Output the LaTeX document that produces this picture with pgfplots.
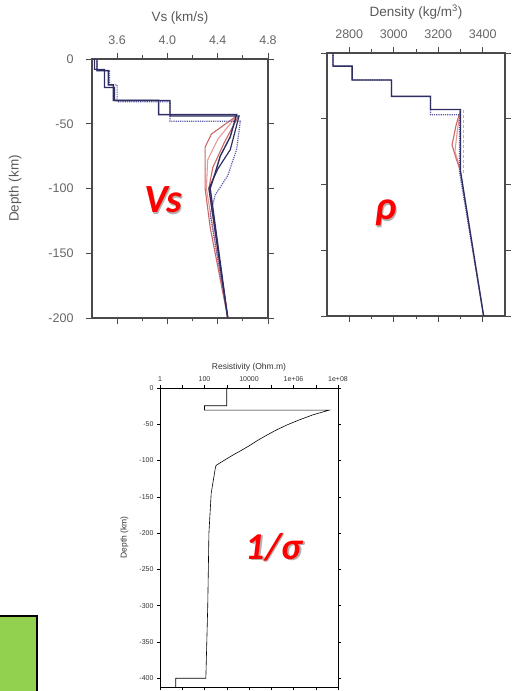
\documentclass[border=0pt]{standalone}
\usepackage{pgfplots}
\pgfplotsset{compat=1.18}
\usepackage{fontspec}
\setmainfont{Liberation Sans}
\newfontfamily\carlito{Carlito}
\definecolor{navy}{HTML}{2E2E62}
\definecolor{redline}{HTML}{C0413F}
\definecolor{pinkline}{HTML}{E08080}
\definecolor{dotblue}{HTML}{5A5AA8}
\definecolor{axgray}{HTML}{4A4A4A}
\definecolor{leaf}{HTML}{92D050}
\pgfplotsset{
  toppanel/.style={
    scale only axis, ymin=-200, ymax=0,
    axis line style={line width=1.6pt, draw=axgray},
    every tick/.style={line width=0.9pt, axgray},
    tick align=outside, major tick length=6pt, minor tick length=3.5pt,
    xticklabel pos=upper, minor x tick num=1,
    ytick={0,-50,-100,-150,-200},
    tick label style={font=\fontsize{12.5}{13}\selectfont, text=black!60},
    xticklabel style={yshift=5pt},
    yticklabel style={xshift=-9pt},
    label style={font=\fontsize{13.5}{14}\selectfont, text=black!65},
    xlabel style={at={(axis description cs:0.5,1)}, anchor=center, yshift=41pt},
    /pgf/number format/assume math mode=true,
    clip=true,
  }
}
\begin{document}
\begin{tikzpicture}
\useasboundingbox (0pt,0pt) rectangle (512pt,691pt);
% green box, bottom left
\fill[leaf] (0pt,0pt) rectangle (37pt,75pt);
\draw[line width=1.6pt] (-1pt,75pt) -- (37pt,75pt) -- (37pt,-1pt);

% ---- Vs panel ----
\begin{axis}[toppanel, at={(92pt,373pt)}, anchor=south west, width=176pt, height=259pt,
  xmin=3.4, xmax=4.8, xtick={3.6,4.0,4.4,4.8},
  xticklabels={3.6,4.0,4.4,4.8},
  xlabel={Vs (km/s)}, ylabel={Depth (km)},
  ylabel style={at={(axis description cs:-0.437,0.5)}, anchor=center}]
\addplot[redline, line width=1.1pt, opacity=0.8] coordinates {(4.55,-44) (4.35,-58) (4.30,-68) (4.30,-100) (4.34,-130) (4.48,-200)};
\addplot[pinkline, line width=1.1pt, opacity=0.8] coordinates {(4.55,-44) (4.40,-62) (4.32,-78) (4.31,-100) (4.48,-200)};
\addplot[redline, line width=1.1pt, opacity=0.8] coordinates {(4.56,-45) (4.45,-65) (4.36,-84) (4.33,-100) (4.48,-200)};
\addplot[dotblue, densely dotted, line width=1.2pt] coordinates {(3.44,0) (3.44,-9) (3.54,-9) (3.54,-20) (3.60,-20) (3.60,-33) (4.02,-33) (4.02,-48) (4.58,-48) (4.55,-70) (4.48,-90) (4.38,-105) (4.34,-120) (4.48,-200)};
\addplot[navy, line width=1.2pt] coordinates {(3.42,0) (3.42,-8) (3.50,-8) (3.50,-22) (3.58,-22) (3.58,-32) (4.02,-32) (4.02,-44) (4.57,-44) (4.50,-70) (4.40,-85) (4.33,-100) (4.48,-200)};
\addplot[navy, line width=1.4pt] coordinates {(3.44,0) (3.44,-9) (3.53,-9) (3.53,-20) (3.57,-20) (3.57,-32) (3.93,-32) (3.93,-43) (4.55,-43) (4.50,-60) (4.42,-75) (4.38,-88) (4.34,-100) (4.48,-200)};
\end{axis}

% ---- Density panel ----
\begin{axis}[toppanel, at={(327pt,375pt)}, anchor=south west, width=178pt, height=263pt,
  xmin=2700, xmax=3500, xtick={2800,3000,3200,3400},
  yticklabels={}, xlabel={Density (kg/m\textsuperscript{3})},
  scaled x ticks=false, /pgf/number format/1000 sep={}]
\addplot[cyan!60, densely dashed, line width=1pt] coordinates {(3312,-43) (3312,-92)};
\addplot[redline, line width=1.1pt, opacity=0.8] coordinates {(3300,-43) (3280,-55) (3262,-70) (3280,-80) (3300,-90)};
\addplot[pinkline, line width=1.1pt, opacity=0.8] coordinates {(3300,-43) (3285,-60) (3275,-75) (3300,-88)};
\addplot[dotblue, densely dotted, line width=1.2pt] coordinates {(2727,0) (2727,-10) (2813,-10) (2813,-20.5) (2990,-20.5) (2990,-33) (3165,-33) (3165,-47) (3295,-47) (3295,-90) (3404,-200)};
\addplot[navy, line width=1.4pt] coordinates {(2727,0) (2727,-10) (2813,-10) (2813,-20.5) (2990,-20.5) (2990,-33) (3165,-33) (3165,-43) (3300,-43) (3300,-90) (3404,-200)};
\end{axis}

% ---- Resistivity panel ----
\begin{axis}[at={(160pt,4pt)}, anchor=south west, scale only axis, width=178pt, height=299pt,
  xmode=log, xmin=1, xmax=1e8, ymin=-412, ymax=0,
  xtick={1,100,1e4,1e6,1e8}, xticklabels={1,100,10000,1e+06,1e+08},
  minor xtick={10,1000,1e5,1e7}, xticklabel pos=upper,
  ytick={0,-50,-100,-150,-200,-250,-300,-350,-400},
  axis line style={line width=0.9pt, black},
  every tick/.style={line width=0.5pt, black},
  tick align=outside, major tick length=3pt, minor tick length=3pt,
  tick label style={font=\fontsize{7}{8}\selectfont, text=black!80},
  label style={font=\fontsize{8.5}{9}\selectfont, text=black!80},
  /pgf/number format/assume math mode=true,
  xlabel={Resistivity (Ohm.m)}, ylabel={Depth (km)},
  xlabel style={at={(axis description cs:0.5,1)}, anchor=center, yshift=21pt},
  ylabel style={at={(axis description cs:-0.2,0.5)}, anchor=center}]
\addplot[black, line width=0.6pt] coordinates {(1000,0) (1000,-24.4) (100,-24.4) (100,-30.5) (4e7,-30.5) (7.4e6,-37) (1.8e6,-44) (5e5,-51) (1.66e5,-58) (6.3e4,-65) (2.5e4,-72) (1.1e4,-79) (4.5e3,-86) (2e3,-92) (830,-99) (355,-106) (316,-108) (200,-145) (158,-200) (140,-300) (115,-400) (5.1,-400) (5.1,-412)};
\end{axis}

% big red labels
\node[text=black!30, font=\carlito\bfseries\itshape\fontsize{40}{40}\selectfont] at (164.5pt,489.5pt) {Vs};
\node[text=red, font=\carlito\bfseries\itshape\fontsize{40}{40}\selectfont] at (163pt,491pt) {Vs};
\node[text=black!30, font=\carlito\bfseries\itshape\fontsize{40}{40}\selectfont] at (387.5pt,476.5pt) {ρ};
\node[text=red, font=\carlito\bfseries\itshape\fontsize{40}{40}\selectfont] at (386pt,478pt) {ρ};
\node[text=black!30, font=\carlito\bfseries\itshape\fontsize{38}{38}\selectfont] at (275.5pt,142.5pt) {1/σ};
\node[text=red, font=\carlito\bfseries\itshape\fontsize{38}{38}\selectfont] at (274pt,144pt) {1/σ};
\end{tikzpicture}
\end{document}
